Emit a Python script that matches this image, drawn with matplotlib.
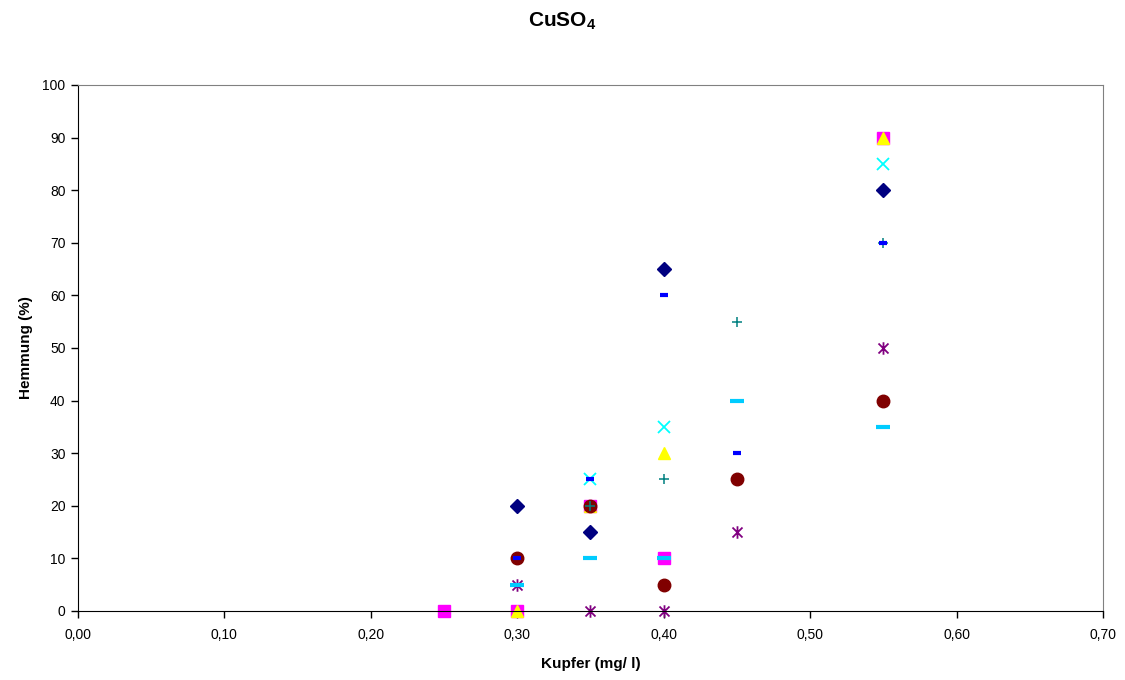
import matplotlib.pyplot as plt
import numpy as np
from matplotlib.path import Path
from matplotlib.ticker import FuncFormatter, MultipleLocator

plt.rcParams['font.family'] = ['Liberation Sans', 'DejaVu Sans']
plt.rcParams['mathtext.fontset'] = 'custom'
plt.rcParams['mathtext.rm'] = 'Liberation Sans'
plt.rcParams['mathtext.bf'] = 'Liberation Sans:bold'

# series (Kupfer mg/l, Hemmung %)
x_diamond = [0.30, 0.35, 0.40, 0.55]
y_diamond = [20, 15, 65, 80]
x_square = [0.25, 0.30, 0.35, 0.40, 0.55]
y_square = [0, 0, 20, 10, 90]
x_triangle = [0.30, 0.35, 0.40, 0.55]
y_triangle = [0, 20, 30, 90]
x_cross = [0.35, 0.40, 0.55]
y_cross = [25, 35, 85]
x_star = [0.30, 0.35, 0.40, 0.45, 0.55]
y_star = [5, 0, 0, 15, 50]
x_circle = [0.30, 0.35, 0.40, 0.45, 0.55]
y_circle = [10, 20, 5, 25, 40]
x_plus = [0.35, 0.40, 0.45, 0.55]
y_plus = [20, 25, 55, 70]
x_sdash = [0.30, 0.35, 0.40, 0.45, 0.55]
y_sdash = [10, 25, 60, 30, 70]
x_ldash = [0.30, 0.35, 0.40, 0.45, 0.55]
y_ldash = [5, 10, 10, 40, 35]

# Excel-style star marker: vertical bar plus an X
star = Path([(0, -1), (0, 1), (-0.8, -0.8), (0.8, 0.8), (-0.8, 0.8), (0.8, -0.8)],
            [Path.MOVETO, Path.LINETO, Path.MOVETO, Path.LINETO, Path.MOVETO, Path.LINETO])

fig = plt.figure(figsize=(11.25, 6.8), dpi=100)
ax = fig.add_axes([0.0693, 0.1015, 0.9111, 0.7735])

kw = dict(linestyle='none', clip_on=False)
ax.plot(x_diamond, y_diamond, marker='D', ms=7, color='#000080', mec='#000080', **kw)
ax.plot(x_square, y_square, marker='s', ms=9, color='#FF00FF', mec='#FF00FF', **kw)
ax.plot(x_triangle, y_triangle, marker='^', ms=9, color='#FFFF00', mec='#FFFF00', **kw)
ax.plot(x_cross, y_cross, marker='x', ms=9, mew=1.3, color='#00FFFF', **kw)
ax.plot(x_star, y_star, marker=star, ms=9, mew=1.3, color='#800080', mfc='none', **kw)
ax.plot(x_circle, y_circle, marker='o', ms=9, color='#800000', mec='#800000', **kw)
ax.plot(x_plus, y_plus, marker='+', ms=7, mew=1.1, color='#008080', **kw)
ax.plot(x_sdash, y_sdash, marker='_', ms=6, mew=3, color='#0000FF', **kw)
ax.plot(x_ldash, y_ldash, marker='_', ms=10, mew=3, color='#00CCFF', **kw)

ax.set_xlim(0, 0.70)
ax.set_ylim(0, 100)
ax.xaxis.set_major_locator(MultipleLocator(0.10))
ax.yaxis.set_major_locator(MultipleLocator(10))
ax.xaxis.set_major_formatter(FuncFormatter(lambda v, p: f"{v:.2f}".replace('.', ',')))
ax.tick_params(direction='out', length=5, width=1, labelsize=10, color='black', pad=7)
ax.tick_params(axis='y', pad=4)

for s in ('top', 'right'):
    ax.spines[s].set_color('#808080')
for s in ('left', 'bottom'):
    ax.spines[s].set_color('black')

ax.set_xlabel('Kupfer (mg/ l)', fontsize=11, fontweight='bold', labelpad=11)
ax.set_ylabel('Hemmung (%)', fontsize=11, fontweight='bold', labelpad=7)
fig.text(0.5, 0.968, r'$\mathbf{CuSO_4}$', ha='center', va='center', fontsize=15)

fig.savefig('out.png', dpi=100)
